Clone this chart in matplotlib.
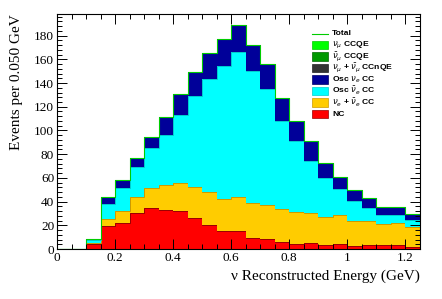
import matplotlib
matplotlib.use("Agg")
import matplotlib.pyplot as plt
import numpy as np
from matplotlib.patches import Rectangle
from matplotlib.ticker import MultipleLocator

# 25 bins of 0.050 GeV from 0 to 1.25 GeV
edges = np.round(np.arange(0, 1.2501, 0.05), 3)

# component heights per bin, stacked bottom -> top
nc = [0, 0, 4.2, 19.4, 21.8, 30.7, 34.9, 32.5, 32.1, 26.0, 20.6, 15.2, 15.1,
      9.0, 8.4, 5.5, 4.1, 5.4, 3.0, 4.3, 2.4, 3.0, 3.0, 3.6, 2.0]
beam_nue = [0, 0, 1.0, 6.1, 10.3, 13.5, 16.9, 21.2, 23.2, 26.4, 27.9, 27.1, 28.5,
            29.4, 28.6, 27.9, 26.9, 25.3, 24.3, 24.2, 21.5, 20.4, 18.4, 18.3, 16.9]
osc_nuebar = [0, 0, 2.1, 12.3, 19.3, 25.0, 33.3, 42.7, 58.0, 76.9, 95.1, 112.1, 122.4,
              111.8, 98.0, 74.8, 59.7, 43.9, 32.7, 21.9, 16.6, 11.0, 7.1, 6.6, 5.8]
osc_nue = [0, 0, 1.0, 6.0, 6.9, 7.3, 9.8, 14.6, 17.7, 20.1, 21.8, 22.9, 22.8,
           22.2, 21.1, 19.2, 17.3, 16.1, 12.7, 10.7, 9.1, 8.4, 7.3, 6.7, 4.9]
numu_ccnqe = [0] * 25
numubar_ccqe = [0] * 25
numu_ccqe = [0] * 25

stack = [nc, beam_nue, osc_nuebar, osc_nue, numu_ccnqe, numubar_ccqe, numu_ccqe]
fills = ['#ff0000', '#ffcc00', '#00ffff', '#000099', '#333333', '#009900', '#00ff00']
lines = ['#990000', '#cc9900', '#00cccc', '#000066', '#222222', '#006600', '#00cc00']
labels = ['NC', r'$\nu_e$ + $\bar{\nu}_e$ CC', r'Osc $\bar{\nu}_e$ CC', r'Osc $\nu_e$ CC',
          r'$\nu_\mu$ + $\bar{\nu}_\mu$ CCnQE', r'$\bar{\nu}_\mu$ CCQE', r'$\nu_\mu$ CCQE']

plt.rcParams['mathtext.fontset'] = 'dejavusans'

fig = plt.figure(figsize=(4.42, 2.99), dpi=100)
ax = fig.add_axes([57 / 442, 1 - 249 / 299, 362.5 / 442, 235 / 299])

bottom = np.zeros(25)
for vals, fc, lc in zip(stack, fills, lines):
    top = bottom + np.array(vals)
    if np.any(np.array(vals) > 0):
        ax.stairs(top, edges, baseline=bottom, fill=True, color=fc, lw=0)
        ax.stairs(top, edges, baseline=None, color=lc, lw=0.7)
    bottom = top

total = bottom
ax.stairs(total, edges, baseline=None, color='#00cc00', lw=0.8)
ax.plot([0, 0.1], [0.3, 0.3], color='#00cc00', lw=0.8)

ax.set_xlim(0, 1.25)
ax.set_ylim(0, total.max() * 1.05)

serif = 'Liberation Serif'
ax.xaxis.set_major_locator(MultipleLocator(0.2))
ax.xaxis.set_minor_locator(MultipleLocator(0.05))
ax.yaxis.set_major_locator(MultipleLocator(20))
ax.yaxis.set_minor_locator(MultipleLocator(4))
ax.tick_params(which='both', direction='in', top=True, right=True, width=0.7)
ax.tick_params(which='major', length=7, labelsize=9.5, pad=2)
ax.tick_params(which='minor', length=3.5)
ax.set_xticks(np.arange(0, 1.21, 0.2))
ax.set_xticklabels(['0', '0.2', '0.4', '0.6', '0.8', '1', '1.2'], family=serif)
for t in ax.get_yticklabels():
    t.set_family(serif)
for sp in ax.spines.values():
    sp.set_linewidth(0.8)

ax.set_xlabel('ν Reconstructed Energy (GeV)', family=serif, fontsize=11, loc='right', labelpad=4)
ax.set_ylabel('Events per 0.050 GeV', family=serif, fontsize=11, loc='top', labelpad=8)

# legend, drawn by hand (ROOT TLegend look)
def px_x(px):
    return (px - 57) / 362.5

def px_y(py):
    return (249 - py) / 235

leg_font = dict(family='Liberation Sans', weight='bold', size=6.1)
row0, step = 33.5, 11.5
ax.plot([px_x(312), px_x(328)], [px_y(row0)] * 2, color='#00cc00', lw=0.8,
        transform=ax.transAxes, clip_on=False)
ax.text(px_x(332), px_y(row0), 'Total', transform=ax.transAxes, va='center', **leg_font)
rows = list(reversed(list(zip(fills, lines, labels))))
for i, (fc, lc, lab) in enumerate(rows, start=1):
    yc = row0 + i * step
    ax.add_patch(Rectangle((px_x(312), px_y(yc + 4)), 16 / 362.5, 8 / 235,
                           facecolor=fc, edgecolor=lc, lw=0.5, transform=ax.transAxes))
    ax.text(px_x(332), px_y(yc), lab, transform=ax.transAxes, va='center', **leg_font)

fig.savefig('out.png', dpi=100)
